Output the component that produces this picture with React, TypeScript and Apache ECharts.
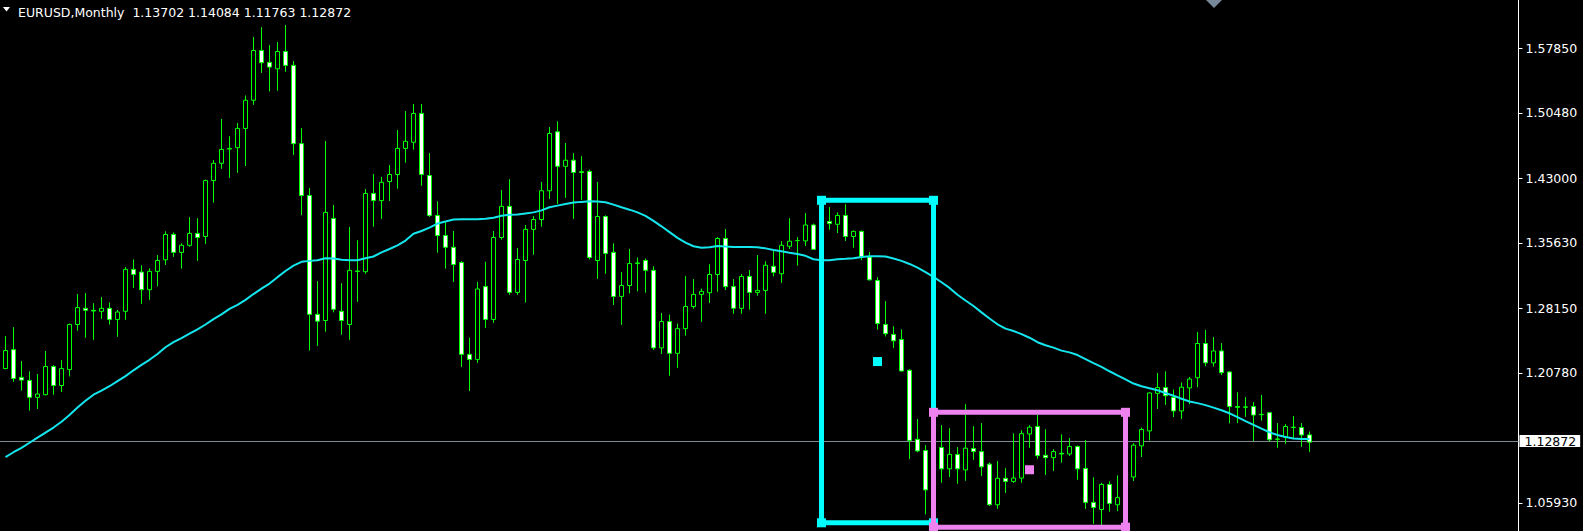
import React, { useEffect, useRef } from 'react';
import * as echarts from 'echarts';

// EURUSD monthly bars, index 0 = first visible month
const opens = [
  1.2128, 1.2344, 1.2027, 1.1992, 1.1799, 1.1829, 1.2151, 1.1934, 1.2116, 1.2631,
  1.2816, 1.2793, 1.2782, 1.2816, 1.2689, 1.2782, 1.3261, 1.3230, 1.3029, 1.3238,
  1.3370, 1.3660, 1.3455, 1.3536, 1.3672, 1.3637, 1.4275, 1.4473, 1.4635, 1.4651,
  1.4871, 1.5193, 1.5761, 1.5626, 1.5552, 1.5750, 1.5591, 1.4697, 1.4105, 1.2747,
  1.2677, 1.3842, 1.2782, 1.2631, 1.3242, 1.3234, 1.4128, 1.4047, 1.4264, 1.4345,
  1.4643, 1.4713, 1.5042, 1.4333, 1.3877, 1.3648, 1.3513, 1.3339, 1.2290, 1.2232,
  1.3064, 1.2689, 1.3625, 1.3981, 1.2998, 1.3362, 1.3718, 1.3830, 1.4159, 1.4833,
  1.4438, 1.4508, 1.4376, 1.4380, 1.3362, 1.3865, 1.3455, 1.2952, 1.3076, 1.3327,
  1.3362, 1.3250, 1.2364, 1.2665, 1.2302, 1.2584, 1.2836, 1.2975, 1.2994, 1.3203,
  1.3614, 1.3064, 1.2816, 1.3180, 1.2998, 1.3021, 1.3296, 1.3211, 1.3525, 1.3590,
  1.3586, 1.3768, 1.3490, 1.3807, 1.3776, 1.3877, 1.3637, 1.3695, 1.3401, 1.3134,
  1.2631, 1.2518, 1.2460, 1.2108, 1.1319, 1.1191, 1.0742, 1.1226, 1.0982, 1.1145,
  1.0970, 1.1214, 1.1179, 1.1036, 1.0572, 1.0874, 1.0839, 1.0877, 1.1381, 1.1466,
  1.1137, 1.1110, 1.1160, 1.1152, 1.1237, 1.0986, 1.0599, 1.0518, 1.0804, 1.0572,
  1.0653, 1.0889, 1.1245, 1.1416, 1.1845, 1.1911, 1.1799, 1.1644, 1.1907, 1.2023,
  1.2414, 1.2193, 1.2329, 1.2089, 1.1694, 1.1685, 1.1694, 1.1601, 1.1624, 1.1323,
  1.1346, 1.1458, 1.1454, 1.13702
];

const highs = [
  1.2499, 1.2600, 1.2213, 1.2097, 1.2066, 1.2329, 1.2166, 1.2224, 1.2642, 1.2979,
  1.2990, 1.2874, 1.2944, 1.2882, 1.2797, 1.3288, 1.3374, 1.3308, 1.3273, 1.3424,
  1.3695, 1.3683, 1.3559, 1.3857, 1.3846, 1.4287, 1.4511, 1.4980, 1.4782, 1.4933,
  1.5247, 1.5916, 1.6028, 1.5823, 1.5858, 1.6052, 1.5641, 1.4875, 1.4190, 1.3126,
  1.4728, 1.3997, 1.3103, 1.3745, 1.3594, 1.4179, 1.4349, 1.4318, 1.4453, 1.4852,
  1.5069, 1.5150, 1.5150, 1.4589, 1.4039, 1.3799, 1.3699, 1.3354, 1.2480, 1.3118,
  1.3347, 1.3699, 1.4167, 1.4291, 1.3505, 1.3768, 1.3869, 1.4260, 1.4887, 1.4953,
  1.4705, 1.4589, 1.4554, 1.4400, 1.4260, 1.3877, 1.3559, 1.3230, 1.3494, 1.3397,
  1.3385, 1.3296, 1.2762, 1.2745, 1.2642, 1.3184, 1.3149, 1.3041, 1.3319, 1.3629,
  1.3722, 1.3149, 1.3207, 1.3254, 1.3424, 1.3354, 1.3470, 1.3583, 1.3846, 1.3629,
  1.3904, 1.3784, 1.3825, 1.3973, 1.3912, 1.4004, 1.3706, 1.3706, 1.3459, 1.3172,
  1.2898, 1.2611, 1.2576, 1.2120, 1.1551, 1.1253, 1.1290, 1.1481, 1.1446, 1.1230,
  1.1721, 1.1470, 1.1504, 1.1055, 1.1071, 1.0990, 1.1388, 1.1423, 1.1481, 1.1601,
  1.1435, 1.1206, 1.1377, 1.1334, 1.1249, 1.1311, 1.0885, 1.0823, 1.0839, 1.0908,
  1.0950, 1.1276, 1.1454, 1.1857, 1.2077, 1.2097, 1.1888, 1.1969, 1.2031, 1.2545,
  1.2569, 1.2487, 1.2418, 1.2097, 1.1857, 1.1802, 1.1744, 1.1826, 1.1625, 1.1504,
  1.1493, 1.1586, 1.1504, 1.14084
];

const lows = [
  1.2120, 1.1977, 1.1876, 1.1648, 1.1667, 1.1822, 1.1829, 1.1860, 1.2038, 1.2561,
  1.2480, 1.2456, 1.2696, 1.2631, 1.2491, 1.2685, 1.3049, 1.2867, 1.2913, 1.3068,
  1.3312, 1.3405, 1.3269, 1.3520, 1.3358, 1.3552, 1.4024, 1.4411, 1.4306, 1.4364,
  1.4442, 1.5142, 1.5506, 1.5293, 1.5301, 1.5518, 1.4569, 1.3881, 1.2333, 1.2387,
  1.2549, 1.2770, 1.2514, 1.2456, 1.2890, 1.3211, 1.3749, 1.3838, 1.4043, 1.4182,
  1.4480, 1.4628, 1.4217, 1.3861, 1.3451, 1.3269, 1.3118, 1.2147, 1.1872, 1.2193,
  1.2592, 1.2650, 1.3600, 1.2971, 1.2971, 1.2882, 1.3428, 1.3749, 1.4066, 1.4008,
  1.4078, 1.3838, 1.4055, 1.3374, 1.3153, 1.3211, 1.2855, 1.2627, 1.2987, 1.3010,
  1.2994, 1.2340, 1.2294, 1.2046, 1.2135, 1.2503, 1.2812, 1.2662, 1.2878, 1.3006,
  1.3025, 1.2754, 1.2754, 1.2801, 1.2960, 1.2754, 1.3180, 1.3107, 1.3494, 1.3304,
  1.3528, 1.3486, 1.3475, 1.3714, 1.3675, 1.3586, 1.3509, 1.3366, 1.3135, 1.2573,
  1.2495, 1.2364, 1.2095, 1.1094, 1.1172, 1.0463, 1.0520, 1.0823, 1.0889, 1.0812,
  1.0847, 1.1086, 1.0901, 1.0560, 1.0525, 1.0707, 1.0823, 1.0823, 1.1222, 1.1098,
  1.0912, 1.0959, 1.1052, 1.1129, 1.0858, 1.0525, 1.0355, 1.0340, 1.0494, 1.0498,
  1.0570, 1.0843, 1.1118, 1.1307, 1.1667, 1.1713, 1.1574, 1.1551, 1.1721, 1.1915,
  1.2155, 1.2151, 1.2054, 1.1504, 1.1504, 1.1578, 1.1299, 1.1532, 1.1299, 1.1222,
  1.1268, 1.1319, 1.1234, 1.11763
];

const closes = [
  1.2333, 1.2015, 1.1996, 1.1799, 1.1837, 1.2151, 1.1934, 1.2128, 1.2631, 1.2824,
  1.2793, 1.2785, 1.2816, 1.2689, 1.2774, 1.3261, 1.3203, 1.3029, 1.3238, 1.3362,
  1.3660, 1.3455, 1.3536, 1.3672, 1.3625, 1.4275, 1.4473, 1.4631, 1.4643, 1.4871,
  1.5193, 1.5761, 1.5622, 1.5572, 1.5750, 1.5591, 1.4697, 1.4105, 1.2747, 1.2669,
  1.3912, 1.2805, 1.2677, 1.3250, 1.3238, 1.4128, 1.4047, 1.4256, 1.4345, 1.4643,
  1.4724, 1.5042, 1.4345, 1.3877, 1.3648, 1.3513, 1.3316, 1.2290, 1.2232, 1.3037,
  1.2689, 1.3625, 1.3981, 1.2998, 1.3374, 1.3718, 1.3830, 1.4159, 1.4813, 1.4438,
  1.4508, 1.4368, 1.4368, 1.3397, 1.3865, 1.3443, 1.2952, 1.3076, 1.3327, 1.3335,
  1.3250, 1.2364, 1.2665, 1.2302, 1.2584, 1.2836, 1.2975, 1.3010, 1.3203, 1.3614,
  1.3064, 1.2816, 1.3180, 1.2998, 1.3021, 1.3308, 1.3227, 1.3536, 1.3583, 1.3590,
  1.3768, 1.3490, 1.3800, 1.3784, 1.3877, 1.3637, 1.3695, 1.3405, 1.3141, 1.2642,
  1.2526, 1.2445, 1.2100, 1.1307, 1.1187, 1.0742, 1.1220, 1.0982, 1.1148, 1.0982,
  1.1218, 1.1179, 1.1005, 1.0572, 1.0874, 1.0839, 1.0877, 1.1384, 1.1458, 1.1133,
  1.1110, 1.1179, 1.1152, 1.1237, 1.0982, 1.0599, 1.0541, 1.0804, 1.0587, 1.0653,
  1.0895, 1.1253, 1.1431, 1.1849, 1.1911, 1.1818, 1.1644, 1.1915, 1.2008, 1.2414,
  1.2193, 1.2329, 1.2081, 1.1694, 1.1685, 1.1690, 1.1597, 1.1605, 1.1315, 1.1320,
  1.1466, 1.1455, 1.1369, 1.12872
];

// Moving-average line
const maValues = [
  1.1117, 1.1172, 1.1222, 1.1280, 1.1338, 1.1396, 1.1454, 1.1520, 1.1597, 1.1682,
  1.1760, 1.1829, 1.1876, 1.1926, 1.1984, 1.2042, 1.2108, 1.2170, 1.2228, 1.2294,
  1.2371, 1.2429, 1.2476, 1.2526, 1.2576, 1.2631, 1.2693, 1.2747, 1.2809, 1.2855,
  1.2913, 1.2979, 1.3041, 1.3099, 1.3172, 1.3242, 1.3304, 1.3347, 1.3358, 1.3366,
  1.3389, 1.3385, 1.3370, 1.3366, 1.3366, 1.3389, 1.3408, 1.3455, 1.3494, 1.3536,
  1.3590, 1.3668, 1.3699, 1.3737, 1.3784, 1.3807, 1.3830, 1.3834, 1.3834, 1.3834,
  1.3838, 1.3850, 1.3873, 1.3884, 1.3888, 1.3900, 1.3912, 1.3935, 1.3970, 1.3989,
  1.4008, 1.4024, 1.4032, 1.4039, 1.4035, 1.4028, 1.4001, 1.3970, 1.3943, 1.3912,
  1.3873, 1.3815, 1.3753, 1.3687, 1.3621, 1.3567, 1.3525, 1.3509, 1.3513, 1.3528,
  1.3521, 1.3517, 1.3517, 1.3517, 1.3513, 1.3501, 1.3482, 1.3467, 1.3451, 1.3436,
  1.3416, 1.3377, 1.3366, 1.3366, 1.3377, 1.3381, 1.3389, 1.3401, 1.3412, 1.3412,
  1.3408, 1.3385, 1.3358, 1.3323, 1.3281, 1.3230, 1.3176, 1.3114, 1.3049, 1.2971,
  1.2905, 1.2843, 1.2770, 1.2700, 1.2634, 1.2584, 1.2557, 1.2522, 1.2480, 1.2429,
  1.2394, 1.2367, 1.2333, 1.2313, 1.2282, 1.2236, 1.2189, 1.2147, 1.2097, 1.2050,
  1.2004, 1.1957, 1.1926, 1.1903, 1.1880, 1.1849, 1.1818, 1.1783, 1.1752, 1.1733,
  1.1710, 1.1682, 1.1651, 1.1617, 1.1574, 1.1528, 1.1485, 1.1442, 1.1400, 1.1369,
  1.1346, 1.1330, 1.1323, 1.1323
];

const yTickLabels = [1.0593, 1.2078, 1.2815, 1.3563, 1.43, 1.5048, 1.5785];
const bidPrice = 1.12872;
const titleText = 'EURUSD,Monthly  1.13702 1.14084 1.11763 1.12872';

// rectangles: [fromBar, toBar, topPrice, bottomPrice]
const rectCyan = [102, 116, 1.405, 1.0366];
const rectPink = [116, 140, 1.1628, 1.0316];

const priceMin = 1.02722;
const priceMax = 1.63382;

const FONT = '"DejaVu Sans", Verdana, sans-serif';

export default function App() {
  const ref = useRef<HTMLDivElement>(null);

  useEffect(() => {
    if (!ref.current) return;
    const chart = echarts.init(ref.current, null, { renderer: 'svg' });

    const candleData = opens.map((o, i) => [i, o, closes[i], lows[i], highs[i]]);
    const maData = maValues.map((v, i) => [i, v]);

    const option = {
      animation: false,
      backgroundColor: '#000000',
      grid: { left: 0, right: 64.5, top: 0, bottom: 0, containLabel: false },
      xAxis: {
        type: 'value',
        min: -0.6875,
        max: 189.125,
        show: false,
        splitLine: { show: false },
        axisLine: { onZero: false },
      },
      yAxis: {
        type: 'value',
        position: 'right',
        min: priceMin,
        max: priceMax,
        scale: true,
        splitLine: { show: false },
        axisLine: { show: true, onZero: false, lineStyle: { color: '#ffffff', width: 1 } },
        axisTick: {
          show: true,
          length: 4,
          lineStyle: { color: '#ffffff' },
          customValues: yTickLabels,
        },
        axisLabel: {
          show: true,
          customValues: yTickLabels,
          margin: 7,
          color: '#ffffff',
          fontFamily: FONT,
          fontSize: 12.5,
          formatter: (v: number) => v.toFixed(5),
        },
      },
      graphic: [
        {
          type: 'polygon',
          shape: { points: [[3, 7], [10, 7], [6.5, 11.5]] },
          style: { fill: '#ffffff' },
          z: 100,
        },
        {
          type: 'text',
          x: 18,
          y: 12,
          style: {
            text: titleText,
            fill: '#ffffff',
            font: `12.5px ${FONT}`,
            textVerticalAlign: 'middle',
          },
          z: 100,
        },
        {
          type: 'polygon',
          shape: { points: [[1206, 0], [1222, 0], [1214, 8]] },
          style: { fill: '#778899' },
          z: 100,
        },
      ],
      series: [
        {
          type: 'candlestick',
          data: candleData,
          encode: { x: 0, y: [1, 2, 3, 4] },
          barWidth: 4,
          itemStyle: {
            color: '#000000',
            color0: '#ffffff',
            borderColor: '#00ff00',
            borderColor0: '#00ff00',
            borderColorDoji: '#00ff00',
            borderWidth: 1,
          },
          z: 3,
          markLine: {
            silent: true,
            symbol: ['none', 'none'],
            z: 1,
            lineStyle: { color: '#7f8891', width: 1, type: 'solid' },
            label: {
              show: true,
              position: 'end',
              distance: 1,
              formatter: bidPrice.toFixed(5),
              color: '#000000',
              backgroundColor: '#ffffff',
              padding: [1, 4, 0, 5],
              lineHeight: 11,
              fontFamily: FONT,
              fontSize: 12.5,
            },
            data: [{ yAxis: bidPrice }],
          },
        },
        {
          type: 'line',
          data: maData,
          showSymbol: false,
          symbol: 'none',
          lineStyle: { color: '#14e6ee', width: 2 },
          z: 4,
        },
        {
          type: 'custom',
          z: 5,
          clip: false,
          encode: { x: [0, 1], y: [2, 3] },
          data: [
            { value: rectCyan, itemStyle: { color: '#00ffff' } },
            { value: rectPink, itemStyle: { color: '#ee82ee' } },
          ],
          renderItem: (params: any, api: any) => {
            const a = api.coord([api.value(0), api.value(2)]);
            const b = api.coord([api.value(1), api.value(3)]);
            const color = api.visual('color');
            const x0 = a[0], y0 = a[1], x1 = b[0], y1 = b[1];
            const s = 9;
            const sq = (cx: number, cy: number) => ({
              type: 'rect',
              shape: { x: cx - s / 2, y: cy - s / 2, width: s, height: s },
              style: { fill: color },
            });
            return {
              type: 'group',
              children: [
                {
                  type: 'rect',
                  shape: { x: x0, y: y0, width: x1 - x0, height: y1 - y0 },
                  style: { fill: 'none', stroke: color, lineWidth: 5 },
                },
                sq(x0, y0),
                sq(x1, y0),
                sq(x0, y1),
                sq(x1, y1),
                sq((x0 + x1) / 2, (y0 + y1) / 2),
              ],
            };
          },
        },
      ],
    };

    chart.setOption(option as any);
    return () => {
      chart.dispose();
    };
  }, []);

  return (
    <div
      ref={ref}
      style={{
        position: 'fixed',
        left: 0,
        top: 0,
        width: 1583,
        height: 531,
        background: '#000000',
      }}
    />
  );
}
